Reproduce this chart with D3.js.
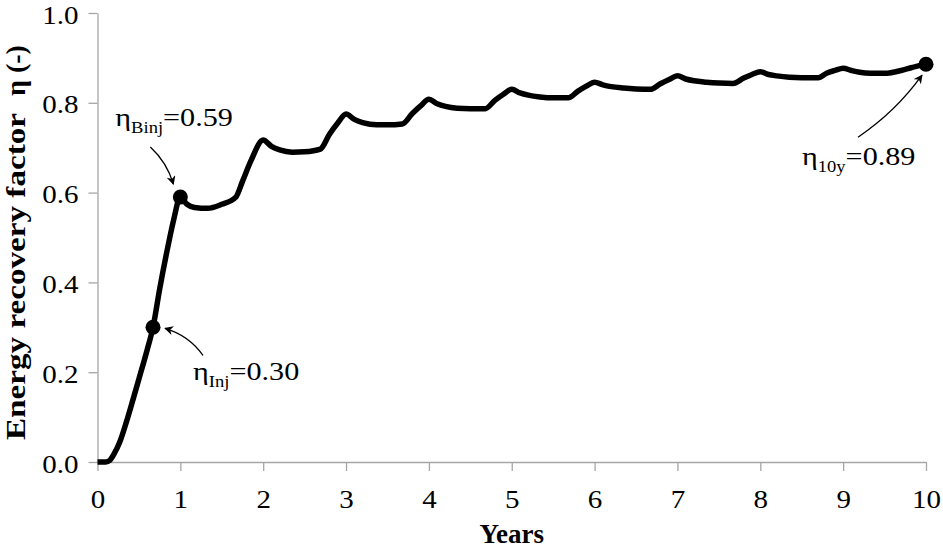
<!DOCTYPE html>
<html>
<head>
<meta charset="utf-8">
<script src="https://cdn.jsdelivr.net/npm/d3@7"></script>
<style>
  body { margin: 0; background: #fff; }
</style>
</head>
<body>
<div id="chart"></div>
<script>
var svgWidth = 943;
var svgHeight = 550;
var serif = "Liberation Serif";
var stretch = 1.16; // regular text in the picture is a bit wider than the font

var margin = { top: 13, right: 17, bottom: 88, left: 97.5 };
var width = svgWidth - margin.left - margin.right;
var height = svgHeight - margin.top - margin.bottom;

// data
var years = [0, 0.1, 0.15, 0.2, 0.27, 0.35, 0.43, 0.5, 0.6, 0.67, 0.75, 0.85, 0.92, 1.0,
  1.08, 1.17, 1.33, 1.5, 1.67, 1.75, 1.85, 2.0,
  2.1, 2.2, 2.35, 2.5, 2.69, 2.8, 2.9, 3.0,
  3.1, 3.2, 3.37, 3.5, 3.68, 3.8, 3.9, 4.0,
  4.1, 4.2, 4.34, 4.5, 4.68, 4.8, 4.9, 5.0,
  5.1, 5.2, 5.34, 5.5, 5.68, 5.8, 5.9, 6.0,
  6.1, 6.2, 6.35, 6.5, 6.67, 6.8, 6.9, 7.0,
  7.1, 7.2, 7.35, 7.5, 7.67, 7.8, 7.9, 8.0,
  8.1, 8.2, 8.35, 8.5, 8.7, 8.8, 8.9, 9.0,
  9.1, 9.2, 9.33, 9.53, 9.7, 9.82, 10.0];
var eta = [0, 0, 0.004, 0.018, 0.045, 0.09, 0.14, 0.185, 0.25, 0.30, 0.385, 0.48, 0.54, 0.59,
  0.574, 0.567, 0.565, 0.574, 0.59, 0.625, 0.67, 0.717,
  0.703, 0.695, 0.69, 0.691, 0.697, 0.73, 0.755, 0.775,
  0.763, 0.756, 0.751, 0.751, 0.753, 0.776, 0.793, 0.808,
  0.798, 0.792, 0.788, 0.787, 0.787, 0.806, 0.819, 0.83,
  0.822, 0.817, 0.813, 0.811, 0.811, 0.826, 0.837, 0.846,
  0.840, 0.836, 0.833, 0.831, 0.83, 0.843, 0.852, 0.86,
  0.853, 0.849, 0.846, 0.844, 0.843, 0.855, 0.863, 0.869,
  0.863, 0.86, 0.857, 0.856, 0.856, 0.866, 0.872, 0.877,
  0.872, 0.868, 0.866, 0.866, 0.872, 0.878, 0.886];

// marked points
var markYears = [0.67, 1.0, 10.0];
var markEta = [0.30, 0.59, 0.886];
var markSub = ["Inj", "Binj", "10y"];
var markLabel = ["=0.30", "=0.59", "=0.89"];

var xTicks = [0, 1, 2, 3, 4, 5, 6, 7, 8, 9, 10];
var yTicks = [0, 0.2, 0.4, 0.6, 0.8, 1.0];

var svg = d3.select("#chart")
  .append("svg")
  .attr("width", svgWidth)
  .attr("height", svgHeight)
  .attr("font-family", serif);

function widen(sel) {
  sel.each(function () {
    var w = this.getComputedTextLength();
    d3.select(this).attr("textLength", w * stretch).attr("lengthAdjust", "spacingAndGlyphs");
  });
}

var defs = svg.append("defs");
defs.append("marker")
  .attr("id", "arrow")
  .attr("viewBox", "0 0 10 10")
  .attr("refX", 9)
  .attr("refY", 5)
  .attr("markerWidth", 9)
  .attr("markerHeight", 9)
  .attr("markerUnits", "userSpaceOnUse")
  .attr("orient", "auto")
  .append("path")
  .attr("d", "M0,0 L10,5 L0,10 L3,5 Z")
  .attr("fill", "#000");

var chartGroup = svg.append("g")
  .attr("transform", `translate(${margin.left}, ${margin.top})`);

var xScale = d3.scaleLinear().domain([0, 10]).range([0, width]);
var yScale = d3.scaleLinear().domain([0, 1]).range([height, 0]);

var bottomAxis = d3.axisBottom(xScale).tickValues(xTicks).tickFormat(d3.format("d"))
  .tickSize(9).tickSizeOuter(0).tickPadding(10);
var leftAxis = d3.axisLeft(yScale).tickValues(yTicks).tickFormat(d3.format(".1f"))
  .tickSize(9).tickSizeOuter(0).tickPadding(10);

var xAxis = chartGroup.append("g")
  .attr("transform", `translate(0, ${height})`)
  .call(bottomAxis);
var yAxis = chartGroup.append("g").call(leftAxis);

[xAxis, yAxis].forEach(function (ax) {
  ax.attr("font-family", serif).attr("font-size", 25);
  ax.select(".domain").attr("stroke", "#a6a6a6").attr("stroke-width", 1.3);
  ax.selectAll(".tick line").attr("stroke", "#a6a6a6").attr("stroke-width", 1.3);
  ax.selectAll(".tick text").attr("fill", "#000").call(widen);
});
xAxis.selectAll(".tick text").attr("dy", "1.07em");
yAxis.selectAll(".tick text").attr("dy", "0.4em");

// curve
var pts = years.map(function (t, i) { return [t, eta[i]]; });
var line = d3.line()
  .x(d => xScale(d[0]))
  .y(d => yScale(d[1]))
  .curve(d3.curveMonotoneX);

chartGroup.append("path")
  .datum(pts)
  .attr("d", line)
  .attr("fill", "none")
  .attr("stroke", "#000")
  .attr("stroke-width", 5.5)
  .attr("stroke-linejoin", "round");

chartGroup.selectAll(".mark")
  .data(markYears)
  .enter()
  .append("circle")
  .attr("cx", d => xScale(d))
  .attr("cy", (d, i) => yScale(markEta[i]))
  .attr("r", 7.5)
  .attr("fill", "#000");

// annotation offsets relative to each point: text start, arrow start, arrow end, curvature
var labelOff = [[40, 53], [-65, -71], [-124, 101]];
var arrowFrom = [[50, 28], [-30, -50], [-68, 73]];
var arrowTo = [[12, 1], [-7, -13], [-4, 11]];
var bend = [8, -6, 8];

markYears.forEach(function (t, i) {
  var px = xScale(t), py = yScale(markEta[i]);
  var lbl = chartGroup.append("text")
    .attr("x", px + labelOff[i][0])
    .attr("y", py + labelOff[i][1])
    .attr("font-family", serif)
    .attr("font-size", 26);
  lbl.append("tspan").text("\u03B7");
  lbl.append("tspan").attr("dy", 7).attr("font-size", 16).text(markSub[i]);
  lbl.append("tspan").attr("dy", -7).text(markLabel[i]);
  lbl.call(widen);

  var x0 = px + arrowFrom[i][0], y0 = py + arrowFrom[i][1];
  var x1 = px + arrowTo[i][0], y1 = py + arrowTo[i][1];
  var mx = (x0 + x1) / 2, my = (y0 + y1) / 2;
  var dx = x1 - x0, dy = y1 - y0, len = Math.sqrt(dx * dx + dy * dy);
  var cx = mx - dy / len * bend[i], cy = my + dx / len * bend[i];
  chartGroup.append("path")
    .attr("d", `M${x0},${y0} Q${cx},${cy} ${x1},${y1}`)
    .attr("fill", "none")
    .attr("stroke", "#000")
    .attr("stroke-width", 1.3)
    .attr("marker-end", "url(#arrow)");
});

// axis titles
svg.append("text")
  .attr("x", margin.left + width / 2)
  .attr("y", 543)
  .attr("text-anchor", "middle")
  .attr("font-size", 27)
  .attr("font-weight", "bold")
  .text("Years");

var yTitle = svg.append("g").attr("transform", "translate(25, 0) rotate(-90)");
yTitle.append("text")
  .attr("x", -440)
  .attr("y", 0)
  .attr("textLength", 327)
  .attr("lengthAdjust", "spacingAndGlyphs")
  .attr("font-size", 28)
  .attr("font-weight", "bold")
  .text("Energy recovery factor");
yTitle.append("text")
  .attr("x", -96)
  .attr("y", 0)
  .attr("font-size", 28)
  .attr("font-weight", "bold")
  .text("\u03B7 (-)");
</script>
</body>
</html>
